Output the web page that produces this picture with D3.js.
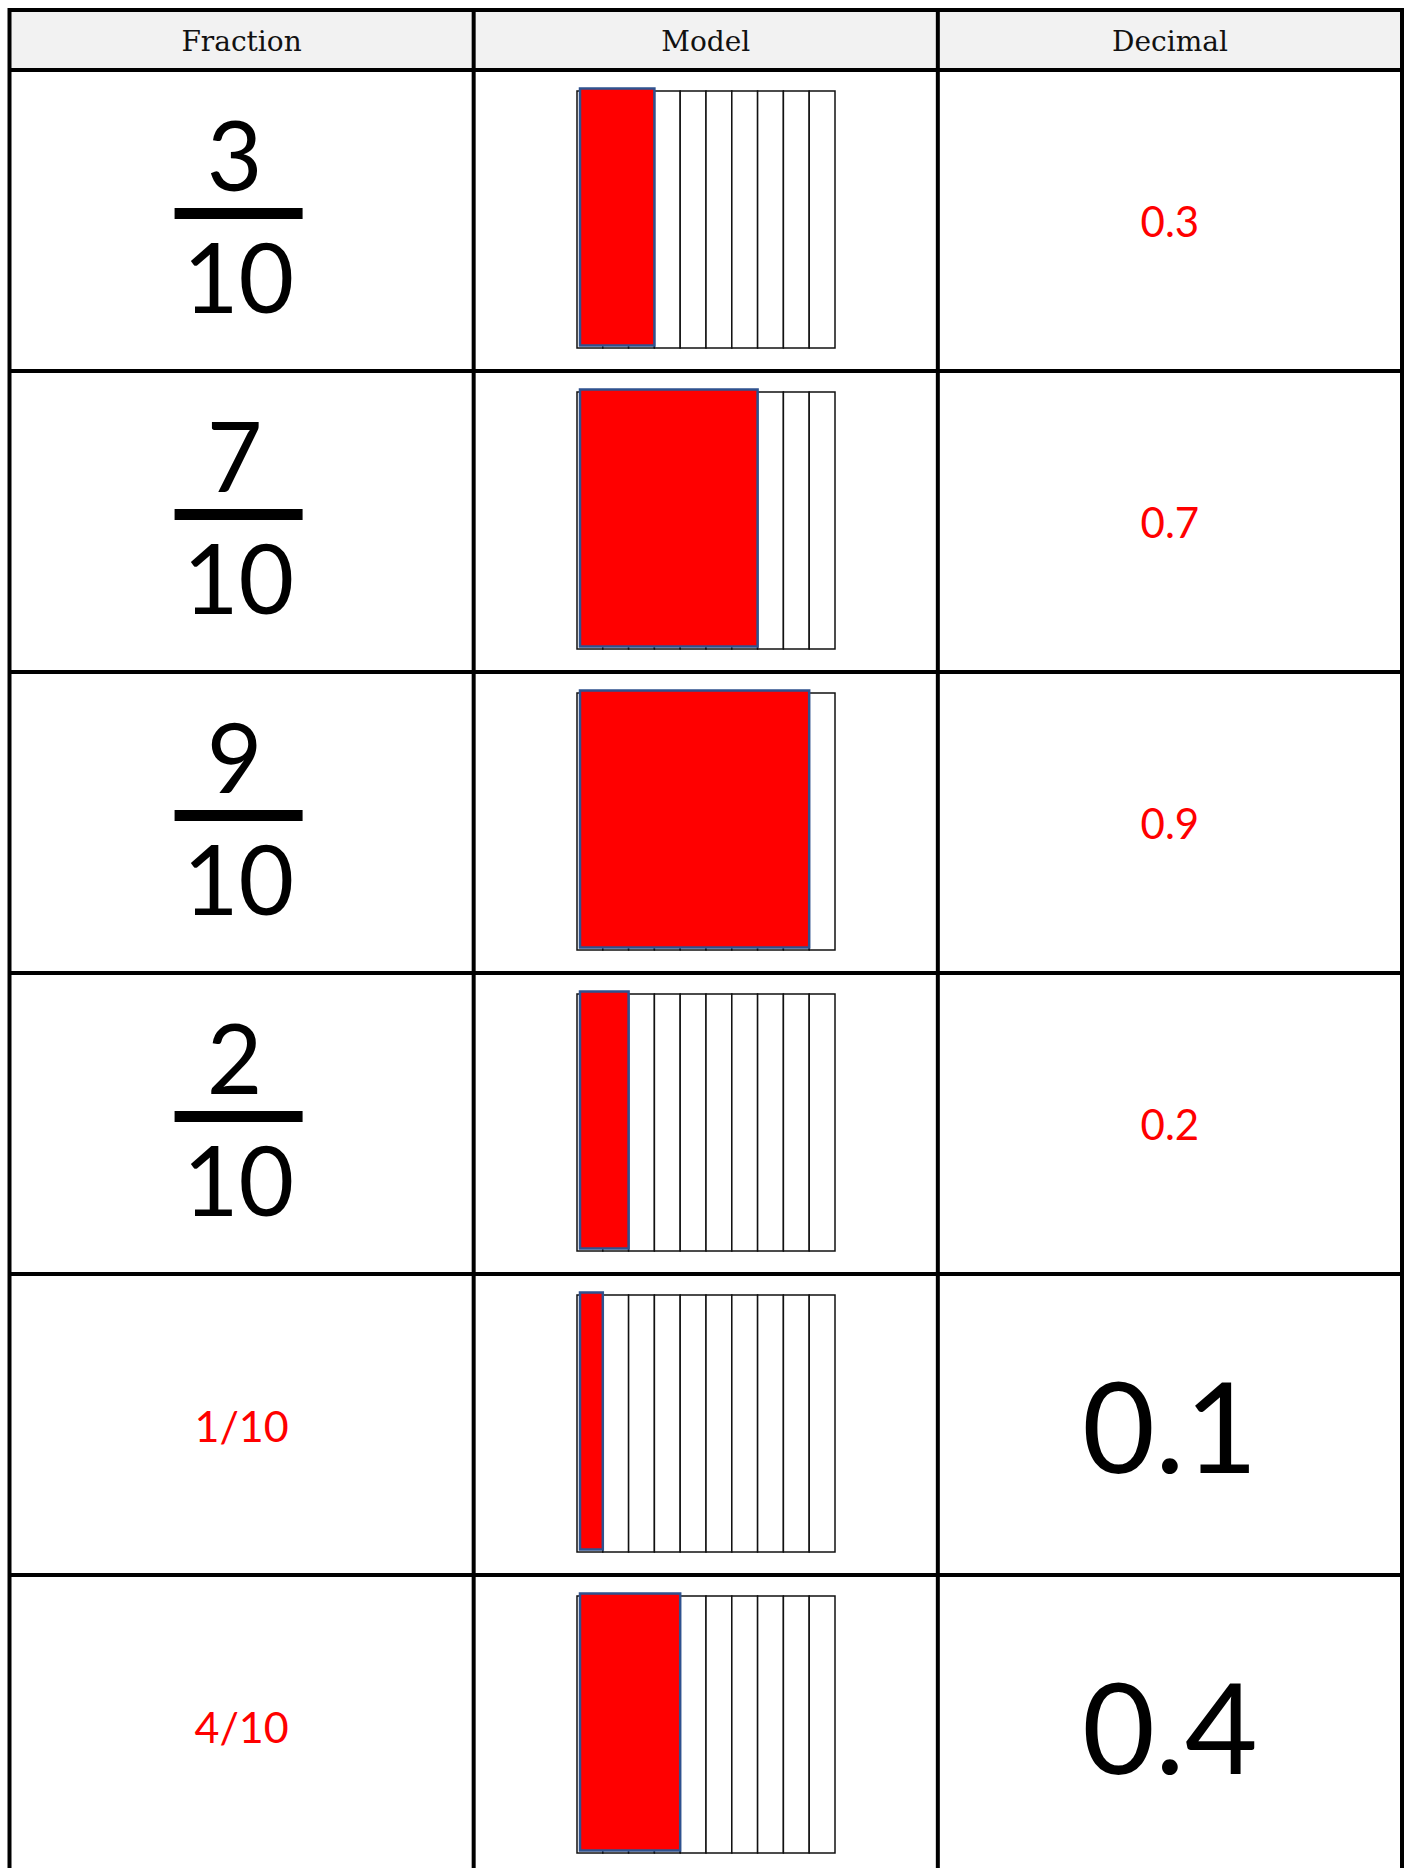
<!DOCTYPE html>
<html>
<head>
<meta charset="utf-8">
<script src="https://cdn.jsdelivr.net/npm/d3@7"></script>
<style>
  body { margin: 0; background: #fff; }
  .head { font-family: "DejaVu Serif", Georgia, serif; font-size: 28px; fill: #111; }
  .num { font-family: Lato, "Open Sans", sans-serif; }
</style>
</head>
<body>
<script>
// table contents
var headers = ["Fraction", "Model", "Decimal"];
var numerators = [3, 7, 9, 2, 1, 4];
var denominator = 10;
var decimals = ["0.3", "0.7", "0.9", "0.2", "0.1", "0.4"];
// which side of the row is the given one (the other is the red answer)
var given = ["fraction", "fraction", "fraction", "fraction", "decimal", "decimal"];

var W = 1410, H = 1868,
    tLeft = 9.5, tRight = 1402,
    tTop = 10, headH = 60, rowH = 301,
    red = "#ff0000";

var svg = d3.select("body").append("svg")
    .attr("width", W)
    .attr("height", H);

var col = d3.scaleLinear().domain([0, 3]).range([tLeft, tRight]);
var rowY = function(i) { return tTop + headH + i * rowH; };

// header band
svg.append("rect")
    .attr("x", tLeft).attr("y", tTop)
    .attr("width", tRight - tLeft).attr("height", headH)
    .attr("fill", "#f2f2f2");

svg.selectAll(".head")
    .data(headers)
  .enter().append("text")
    .attr("class", "head")
    .attr("x", function(d, i) { return (col(i) + col(i + 1)) / 2; })
    .attr("y", tTop + 41)
    .attr("text-anchor", "middle")
    .text(function(d) { return d; });

var rows = svg.selectAll(".row")
    .data(numerators)
  .enter().append("g")
    .attr("class", "row")
    .attr("transform", function(d, i) { return "translate(0," + rowY(i) + ")"; });

// fraction column
var cx1 = (col(0) + col(1)) / 2 - 4;
rows.each(function(n, i) {
  var g = d3.select(this);
  if (given[i] === "fraction") {
    g.append("text").attr("class", "num")
        .attr("x", cx1 - 3).attr("y", 121)
        .attr("text-anchor", "middle")
        .attr("font-size", 96)
        .text(n);
    g.append("rect")
        .attr("x", cx1 - 63).attr("y", 138)
        .attr("width", 128).attr("height", 11)
        .attr("fill", "#000");
    g.append("text").attr("class", "num")
        .attr("x", cx1 + 1).attr("y", 243)
        .attr("text-anchor", "middle")
        .attr("font-size", 96)
        .text(denominator);
  } else {
    g.append("text").attr("class", "num")
        .attr("x", cx1 + 4).attr("y", 168)
        .attr("text-anchor", "middle")
        .attr("font-size", 43)
        .attr("fill", red)
        .text(n + "/" + denominator);
  }
});

// model column: ten strips, shaded by the numerator
var sx = d3.scaleLinear().domain([0, denominator]).range([577, 835]);
var gridTop = 21, gridH = 257;

rows.each(function(n) {
  var g = d3.select(this);
  g.selectAll(".strip")
      .data(d3.range(denominator))
    .enter().append("rect")
      .attr("class", "strip")
      .attr("x", function(k) { return sx(k); })
      .attr("y", gridTop)
      .attr("width", sx(1) - sx(0))
      .attr("height", gridH)
      .attr("fill", "#fff")
      .attr("stroke", "#111")
      .attr("stroke-width", 1.5);
  g.append("rect")
      .attr("x", sx(0) + 3)
      .attr("y", gridTop - 2.5)
      .attr("width", sx(n) - sx(0) - 3)
      .attr("height", gridH)
      .attr("fill", red)
      .attr("stroke", "#2f528f")
      .attr("stroke-width", 2.5);
});

// decimal column
var cx3 = (col(2) + col(3)) / 2;
rows.append("text")
    .attr("class", "num")
    .attr("x", cx3)
    .attr("y", function(d, i) { return given[i] === "decimal" ? 199 : 167; })
    .attr("text-anchor", "middle")
    .attr("font-size", function(d, i) { return given[i] === "decimal" ? 126 : 42; })
    .attr("fill", function(d, i) { return given[i] === "decimal" ? "#000" : red; })
    .text(function(d, i) { return decimals[i]; });

// grid lines of the table
var hLines = d3.range(numerators.length + 1).map(rowY);
hLines.unshift(tTop);
svg.selectAll(".hline")
    .data(hLines)
  .enter().append("line")
    .attr("x1", tLeft).attr("x2", tRight)
    .attr("y1", function(d) { return d; })
    .attr("y2", function(d) { return d; })
    .attr("stroke", "#000")
    .attr("stroke-width", 4);

svg.selectAll(".vline")
    .data(d3.range(4))
  .enter().append("line")
    .attr("x1", function(k) { return col(k); })
    .attr("x2", function(k) { return col(k); })
    .attr("y1", tTop - 2).attr("y2", H)
    .attr("stroke", "#000")
    .attr("stroke-width", 4);
</script>
</body>
</html>
